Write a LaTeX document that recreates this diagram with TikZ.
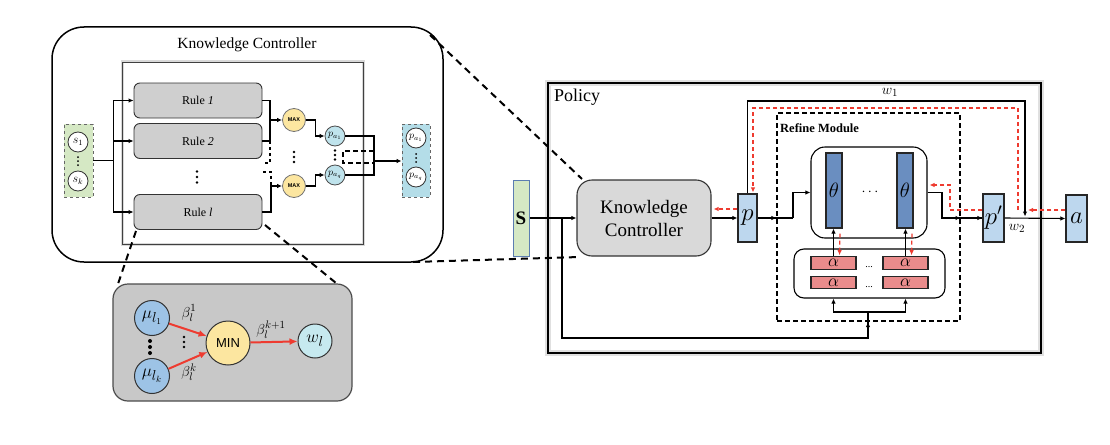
\documentclass[tikz,border=0pt]{standalone}
\usepackage{fontspec}
\setmainfont{Liberation Serif}
\setsansfont{Liberation Sans}
\usetikzlibrary{arrows.meta,calc}
\definecolor{rulegray}{HTML}{CFCFCF}
\definecolor{kcgray}{HTML}{D9D9D9}
\definecolor{sgreen}{HTML}{D5E8C4}
\definecolor{sborder}{HTML}{5B7DB1}
\definecolor{oblue}{HTML}{B4DDE8}
\definecolor{pblue}{HTML}{BDD7EE}
\definecolor{thblue}{HTML}{6A8EC0}
\definecolor{alred}{HTML}{EA8C8C}
\definecolor{myellow}{HTML}{FCE6A0}
\definecolor{pacyan}{HTML}{BFE3EC}
\definecolor{mublue}{HTML}{9DC3E6}
\definecolor{wlblue}{HTML}{C6E9EF}
\definecolor{zgray}{HTML}{C8C8C8}
\definecolor{redd}{HTML}{EE3B30}
\newcommand{\threedotsat}[4]{\fill (#1,#2-#3) circle (#4pt) (#1,#2) circle (#4pt) (#1,#2+#3) circle (#4pt);}
\tikzset{
  sz/.style 2 args={minimum width=#1pt, minimum height=#2pt, inner sep=0pt},
  ln/.style={line width=1.1pt},
  arr/.style={-{Latex[length=5pt,width=4.5pt]}, line width=1.1pt},
  rarr/.style={-{Latex[length=5pt,width=4.5pt]}, line width=1.2pt, draw=redd, dash pattern=on 4pt off 3pt},
  rthick/.style={-{Latex[length=8pt,width=7pt]}, line width=2pt, draw=redd},
  zoomln/.style={line width=2pt, dash pattern=on 7pt off 5pt},
  longdash/.style={dash pattern=on 5pt off 3pt},
  rulebox/.style={draw=black!80, line width=0.9pt, fill=rulegray, rounded corners=6pt, sz={128}{35}, font=\fontsize{12}{14}\selectfont},
  smallc/.style={circle, draw=black!80, line width=0.8pt, fill=white, minimum size=20pt, inner sep=0pt, font=\fontsize{12}{12}\selectfont},
  pac/.style={circle, draw=black!70, line width=0.8pt, fill=pacyan, minimum size=20pt, inner sep=0pt, font=\fontsize{10}{10}\selectfont},
  maxc/.style={circle, draw=black!55, line width=0.8pt, fill=myellow, minimum size=23pt, inner sep=0pt, font=\sffamily\bfseries\fontsize{5.5}{6}\selectfont},
  muc/.style={circle, draw=black!80, line width=1pt, fill=mublue, minimum size=35pt, inner sep=0pt, font=\fontsize{19}{19}\selectfont},
  pbox/.style={draw=black!85, line width=1.1pt, fill=pblue, inner sep=0pt, font=\fontsize{23}{23}\selectfont},
  thbar/.style={draw=black!85, line width=1.1pt, fill=thblue, sz={16}{75}, font=\fontsize{21}{21}\selectfont},
  albar/.style={draw=black!85, line width=1.1pt, fill=alred, sz={45}{12.5}, font=\fontsize{16}{16}\selectfont},
  dotsn/.style={inner sep=0pt, font=\fontsize{11}{11}\selectfont},
}
\begin{document}
\begin{tikzpicture}[x=1pt,y=-1pt]
\useasboundingbox (0,0) rectangle (1110,444);
% ---------------- Knowledge controller detail ----------------
\node[draw, line width=1.5pt, rounded corners=32pt, sz={391}{235}] (kcbig) at (247.5,144.5) {};
\node[font=\fontsize{15.5}{18}\selectfont] (kctitle) at (247,45) {Knowledge Controller};
\node[draw=black!15, line width=3pt, sz={241}{182}] (innerglow) at (242.5,153) {};
\node[draw=black!75, line width=0.8pt, sz={241}{182}] (inner) at (242.5,153) {};
\node[rulebox] (r1) at (198,100.5) {Rule \textit{1}};
\node[rulebox] (r2) at (198,141) {Rule \textit{2}};
\node[rulebox] (rl) at (198,212) {Rule \textit{l}};
\threedotsat{197}{177}{5.5}{1.3}
% s box
\node[draw=black!60, dashed, line width=0.8pt, fill=sgreen, sz={29}{73}] (sbox) at (78.5,160.5) {};
\node[smallc] (s1) at (78,142) {$s_1$};
\node[smallc] (sk) at (78,181) {$s_k$};
\threedotsat{78}{161}{4}{1}
\coordinate (bus) at ($(sbox.east)+(20,0)$);
\draw[ln] (sbox.east) -- (bus);
\draw[arr] (bus) |- (r1.west);
\draw[arr] (bus) |- (r2.west);
\draw[arr] (bus) |- (rl.west);
% MAX
\node[maxc] (m1) at (294,120) {MAX};
\node[maxc] (m2) at (294,186) {MAX};
\threedotsat{294}{157}{5}{1.3}
\coordinate (c1) at (270,120);
\coordinate (c2) at (271,186);
\draw[arr] (r1.east) -| (c1) -- (m1.west);
\draw[ln] (r2.east) -| (c1);
\draw[ln, dashed] (270,141) -- (270,163) -- (263,163);
\draw[ln, dashed] (263,172) -- (271,172) -- (c2);
\draw[arr] (rl.east) -| (c2) -- (m2.west);
% p_a
\node[pac] (pa1) at (335,136) {$p_{a_1}$};
\node[pac] (paq) at (335,175) {$p_{a_q}$};
\threedotsat{335}{155}{4.5}{1.3}
\draw[arr] (m1.east) -| ($(m1.east)!0.5!(pa1.west)$) |- (pa1.west);
\draw[arr] (m2.east) -| ($(m2.east)!0.5!(paq.west)$) |- (paq.west);
% output box
\node[draw=black!60, dashed, line width=0.8pt, fill=oblue, sz={28}{73}] (obox) at (416,160.5) {};
\node[smallc, font=\fontsize{10}{10}\selectfont] (o1) at (416,138) {$p_{a_1}$};
\node[smallc, font=\fontsize{10}{10}\selectfont] (oq) at (416,177) {$p_{a_q}$};
\threedotsat{416}{158}{4}{1}
\coordinate (c3) at (374,161);
\draw[ln] (pa1.east) -| (c3);
\draw[ln] (paq.east) -| (c3);
\draw[arr] (c3) -- (c3 -| obox.west);
\draw[ln, longdash] (374,151) -- (343,151) -- (343,163) -- (374,163);
% ---------------- Rule zoom ----------------
\node[draw=black!70, line width=1.2pt, fill=zgray, rounded corners=15pt, sz={239}{117}] (zbox) at (232.5,342.5) {};
\node[muc] (mu1) at (152,318) {$\mu_{l_1}$};
\node[muc] (muk) at (152,376) {$\mu_{l_k}$};
\threedotsat{150}{347}{6}{2}
\node[circle, draw=black!80, line width=1pt, fill=myellow, minimum size=44pt, inner sep=0pt, font=\sffamily\fontsize{13}{13}\selectfont] (minn) at (228,343) {MIN};
\node[circle, draw=black!80, line width=1pt, fill=wlblue, minimum size=34pt, inner sep=0pt, font=\fontsize{19}{19}\selectfont] (wl) at (315,341) {$w_l$};
\draw[rthick] (mu1) -- (minn);
\draw[rthick] (muk) -- (minn);
\draw[rthick] (minn) -- (wl);
\node[font=\fontsize{15}{15}\selectfont, inner sep=1pt] (b1) at (189,313) {$\beta_l^1$};
\threedotsat{184}{342}{5}{1.3}
\node[font=\fontsize{15}{15}\selectfont, inner sep=1pt] (bk) at (189,372) {$\beta_l^k$};
\node[font=\fontsize{15}{15}\selectfont, inner sep=1pt] (bk1) at (271,330) {$\beta_l^{k+1}$};
% ---------------- Policy ----------------
\node[draw=black!12, line width=6pt, sz={493}{270}] (polshadow) at (794.5,218) {};
\node[draw, line width=1.4pt, sz={493}{270}] (pol) at (794.5,218) {};
\node[anchor=north west, inner sep=0pt, font=\fontsize{18}{20}\selectfont] (poltitle) at (554,89) {Policy};
\node[draw=sborder, fill=sgreen, line width=1pt, sz={16}{76}, font=\bfseries\fontsize{19}{19}\selectfont] (S) at (521,218) {S};
\node[draw=black!80, line width=1.1pt, fill=kcgray, rounded corners=15pt, sz={134}{76}, align=center, font=\fontsize{19}{23}\selectfont] (kc) at (644,218) {Knowledge\\Controller};
\node[pbox, sz={19}{48}] (p) at (747.5,218) {$p$};
\node[draw, longdash, line width=1.1pt, sz={183}{208}] (ref) at (868.5,217) {};
\node[anchor=west, inner sep=0pt, font=\bfseries\fontsize{12.5}{14}\selectfont] (reft) at (780,128) {Refine Module};
\node[draw, line width=1.1pt, rounded corners=14pt, fill=white, sz={116}{91}] (thb) at (869,192.5) {};
\node[thbar] (th1) at (834,190.5) {$\theta$};
\node[thbar] (th2) at (905,190.5) {$\theta$};
\node[dotsn, font=\fontsize{14}{14}\selectfont] (thd) at (870,192) {$\cdots$};
\node[draw, line width=1.1pt, rounded corners=10pt, fill=white, sz={151}{49}] (alb) at (869.5,273.5) {};
\node[albar] (a11) at (833.5,263) {$\alpha$};
\node[albar] (a12) at (905.5,263) {$\alpha$};
\node[albar] (a21) at (833.5,282.5) {$\alpha$};
\node[albar] (a22) at (905.5,282.5) {$\alpha$};
\node[dotsn, font=\fontsize{10}{10}\selectfont] (ad1) at (869,267) {...};
\node[dotsn, font=\fontsize{10}{10}\selectfont] (ad2) at (869,287) {...};
\node[pbox, sz={21}{48}] (pp) at (993.5,218) {$p'$};
\node[pbox, sz={21}{47}] (a) at (1076.5,218.5) {$a$};
% connectors
\draw[arr] (S.east) -- (kc.west);
\coordinate (sb) at (562,218);
\coordinate (jb) at (868,312);
\coordinate (jl) at (868,338);
\draw[ln] (sb) |- (jl) -- (jb);
\draw[arr] (jl) -- (868,322);
\draw[arr] (jb) -| (a11 |- alb.south);
\draw[arr] (jb) -| (a12 |- alb.south);
\draw[arr] (a11.north) -- (a11.north |- th1.south);
\draw[arr] (a12.north) -- (a12.north |- th2.south);
\draw[rarr] ($(th1.south)+(6,5)$) -- ($(a11.north)+(6,-1)$);
\draw[rarr] ($(th2.south)+(7,5)$) -- ($(a12.north)+(6,-1)$);
\draw[arr] (kc.east) -- (p.west);
\draw[rarr] ($(p.west)+(0,-9)$) -- ($(kc.east)+(2,-9)$);
\draw[ln] (p.east) -- (793,218);
\draw[arr] (p.east) -- (ref.west |- p.east);
\draw[arr] (793,218) |- (thb.west);
\draw[ln] (thb.east) -| (942,205) |- (pp.west);
\draw[arr] (thb.east) -| (942,205) |- (ref.east |- pp.west);
\draw[arr] (ref.east |- pp.west) -- (pp.west);
\draw[arr] (pp.east) -- (a.west);
\coordinate (jw) at (1025,218);
\draw[arr] (p.north) |- (1025,101) -- ($(jw)+(0,-1.5)$);
\draw[rarr] ($(a.west)+(0,-8.5)$) -- (1028,210);
\draw[rarr] (1018,210) |- (753,108) -- ($(p.north)+(5.5,-1)$);
\draw[rarr] ($(pp.west)+(0,-8)$) -- (950,210) -- (950,185) -- (929.5,185);
\node[font=\fontsize{15}{15}\selectfont] (w1) at (890,92) {$w_1$};
\node[font=\fontsize{15}{15}\selectfont] (w2) at (1017,228) {$w_2$};
% zoom lines
\draw[zoomln] (430,35) -- (582,179);
\draw[zoomln] (413,262) -- (580,257);
\draw[zoomln] (136,231) -- (118,284);
\draw[zoomln] (265,225) -- (336,283);
\end{tikzpicture}
\end{document}
